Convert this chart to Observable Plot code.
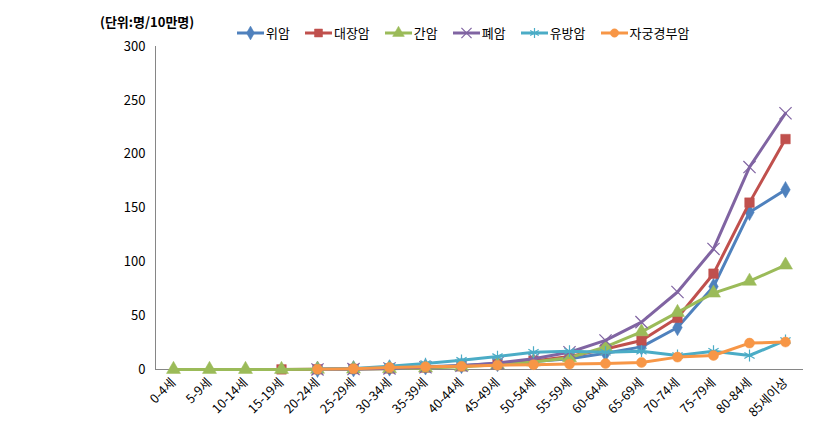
<!DOCTYPE html>
<html><head><meta charset="utf-8">
<script src="https://cdn.jsdelivr.net/npm/d3@7"></script>
<script src="https://cdn.jsdelivr.net/npm/@observablehq/plot@0.6"></script>
<style>
body{margin:0;background:#fff;font-family:"Noto Sans CJK KR","Noto Sans",sans-serif;}
#wrap{position:relative;width:817px;height:441px;overflow:hidden;}
#top{position:relative;height:36px;}
#unit{position:absolute;left:100px;top:13px;font-size:13px;font-weight:bold;line-height:18px;white-space:nowrap;color:#000;}
#legend{position:absolute;left:237px;top:24px;display:flex;gap:15px;font-size:13px;line-height:18px;color:#000;}
.item{display:flex;align-items:center;gap:2px;white-space:nowrap}
.item svg{display:block}
</style></head><body>
<div id="wrap"><div id="top"><div id="unit"></div><div id="legend"></div></div><div id="chart"></div></div>
<script>
const unitLabel = "(단위:명/10만명)";
const ages = ["0-4세","5-9세","10-14세","15-19세","20-24세","25-29세","30-34세","35-39세","40-44세","45-49세","50-54세","55-59세","60-64세","65-69세","70-74세","75-79세","80-84세","85세이상"];
const seriesNames = ["위암","대장암","간암","폐암","유방암","자궁경부암"];
const stomach    = [null,null,null,null,0.2,0.7,1.5,2.5,3.8,5.5,7.5,10,15,21,39,77,146,167];
const colorectal = [null,null,null,0.1,0.2,0.5,1,1.8,3,5,8,12,19,27,48,89,155,214];
const liver      = [0.1,0.1,0.1,0.1,0.2,0.4,0.8,1.4,2.5,4.5,7,11,21,35,53,71,82,97];
const lung       = [null,null,null,null,0.1,0.4,1,2,3.5,6,10,16,27,44,72,112,188,238];
const breast     = [null,null,null,null,0.3,1,3,5.5,8.5,12,16,17,16,17,13,17,13,27];
const cervix     = [null,null,null,null,0.2,0.8,1.8,2.5,3,4,4.5,5,5.5,6.5,11.5,13,24.5,25.5];
const yTicks = [0,50,100,150,200,250,300];

const seriesValues = [stomach, colorectal, liver, lung, breast, cervix];
const colors = ["#4F81BD","#C0504D","#9BBB59","#8064A2","#4BACC6","#F79646"];
const symbols = ["diamond","square","triangle","times","asterisk","circle"];
const d3symbols = [d3.symbolDiamond, d3.symbolSquare, d3.symbolTriangle, d3.symbolTimes, d3.symbolAsterisk, d3.symbolCircle];
const filledSym = [true,true,true,false,false,true];
const radii = [5,5.4,5.2,5.6,5.6,5];

const W = 817, H = 405, mL = 155, mR = 14, mT = 10, mB = 72;
const step = (W - mL - mR) / ages.length;

const data = seriesNames.flatMap((s, i) => seriesValues[i].map((v, j) => ({series: s, age: ages[j], value: v})));

const marks = [
  Plot.ruleY([0], {stroke: "#868686", strokeWidth: 1}),
  Plot.ruleX([ages[0]], {y1: 0, y2: yTicks[yTicks.length-1], dx: -step/2, stroke: "#868686", strokeWidth: 1}),
  Plot.axisY({ticks: yTicks, tickSize: 0, tickPadding: 10, fontSize: 13}),
  Plot.axisX({tickSize: 0, tickRotate: -45, tickPadding: 11, fontSize: 12.5})
];
seriesNames.forEach((s, i) => {
  const d = data.filter(r => r.series === s);
  marks.push(Plot.line(d, {x: "age", y: "value", stroke: colors[i], strokeWidth: 3, defined: r => r.value != null}));
  marks.push(Plot.dot(d.filter(r => r.value != null), {
    x: "age", y: "value", symbol: symbols[i], r: radii[i],
    fill: filledSym[i] ? colors[i] : "none",
    stroke: colors[i], strokeWidth: filledSym[i] ? 0.5 : 1.2
  }));
});

const chart = Plot.plot({
  width: W, height: H,
  marginLeft: mL, marginRight: mR, marginTop: mT, marginBottom: mB,
  style: {fontFamily: '"Noto Sans CJK KR","Noto Sans",sans-serif', color: "#000", background: "#fff"},
  x: {type: "point", domain: ages, padding: 0.5, label: null},
  y: {domain: [0, 300], label: null},
  marks
});
document.getElementById("chart").appendChild(chart);
document.getElementById("unit").textContent = unitLabel;

const legend = d3.select("#legend");
seriesNames.forEach((s, i) => {
  const item = legend.append("div").attr("class", "item");
  const svg = item.append("svg").attr("width", 27).attr("height", 14);
  svg.append("line").attr("x1", 0).attr("x2", 27).attr("y1", 7).attr("y2", 7).attr("stroke", colors[i]).attr("stroke-width", 3);
  svg.append("path").attr("transform", "translate(13.5,7)")
    .attr("d", d3.symbol().type(d3symbols[i]).size(Math.PI * radii[i] * radii[i] * 0.7)())
    .attr("fill", filledSym[i] ? colors[i] : "none").attr("stroke", colors[i]).attr("stroke-width", filledSym[i] ? 0.5 : 1.2);
  item.append("span").text(s);
});
</script>
</body></html>
